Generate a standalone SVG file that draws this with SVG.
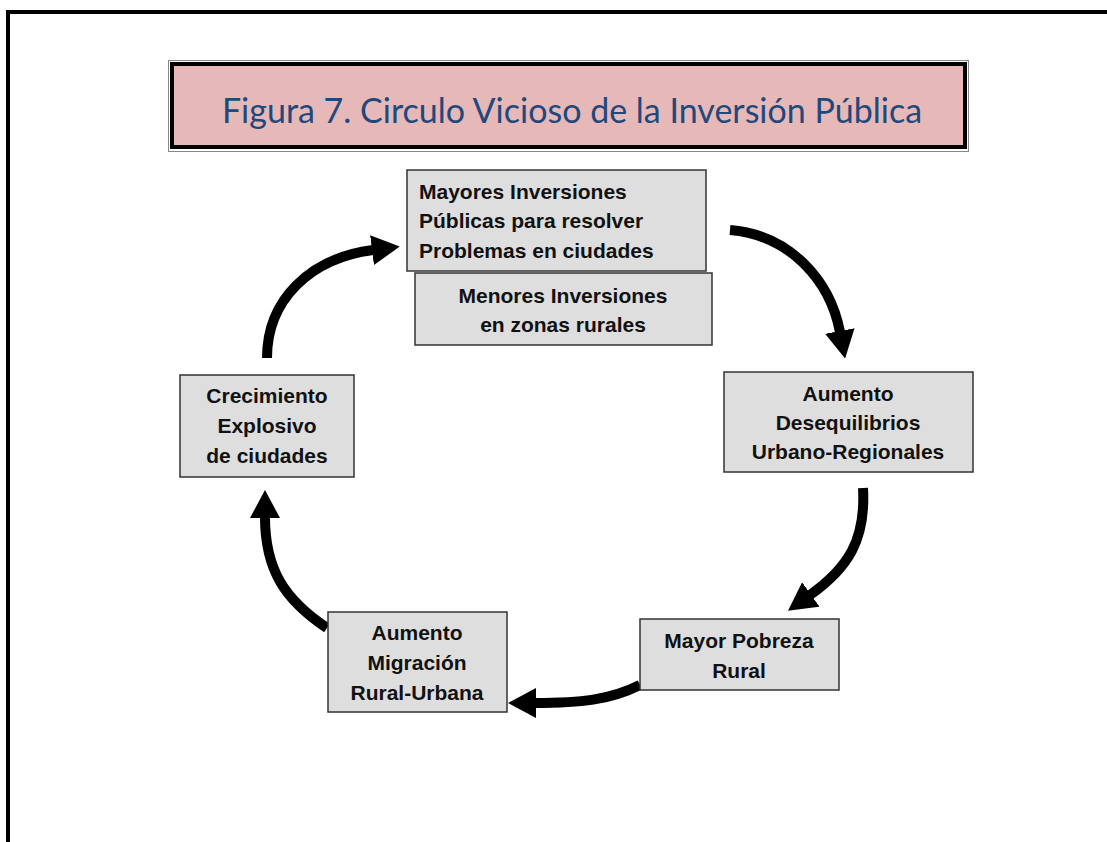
<svg xmlns="http://www.w3.org/2000/svg" width="1107" height="842" viewBox="0 0 1107 842">
<style>
.box{fill:#DEDEDE;stroke:#333;stroke-width:1.5}
.t{font-family:"Liberation Sans",Arial,sans-serif;font-weight:bold;font-size:21px;fill:#111}
.c{text-anchor:middle}
.arr{fill:none;stroke:#000;stroke-width:10;marker-end:url(#head)}
</style>
<defs>
<marker id="head" markerUnits="userSpaceOnUse" markerWidth="28" markerHeight="30" viewBox="0 0 28 30" refX="1" refY="15" orient="auto">
<path d="M0,0 L28,15 L0,30 Z" fill="#000"/>
</marker>
</defs>
<rect width="1107" height="842" fill="#fff"/>
<path d="M8,842 V12 H1107" fill="none" stroke="#000" stroke-width="4"/>
<g id="title">
<rect x="168.5" y="60.5" width="800" height="91" fill="none" stroke="#888" stroke-width="1"/>
<rect x="172" y="64" width="793" height="83" fill="#E6B8B7" stroke="#000" stroke-width="4"/>
<text x="572" y="123" text-anchor="middle" font-family="Lato,'Liberation Sans',sans-serif" font-size="34" fill="#1F497D">Figura 7. Circulo Vicioso de la Inversión Pública</text>
</g>
<g id="connectors">
<path class="arr" d="M730,230 C790,235 830,280 840,332"/>
<path class="arr" d="M863,488 C866,540 848,568 810,595"/>
<path class="arr" d="M640,685 C610,700 580,703 535,703"/>
<path class="arr" d="M327,628 C285,600 265,570 265,517"/>
<path class="arr" d="M267,358 C267,300 310,258 373,250"/>
</g>
<g id="n1">
<rect class="box" x="407" y="170" width="299" height="101"/>
<text class="t" x="419" y="199">Mayores Inversiones</text>
<text class="t" x="419" y="228">Públicas para resolver</text>
<text class="t" x="419" y="258">Problemas en ciudades</text>
</g>
<g id="n2">
<rect class="box" x="415" y="273" width="297" height="72"/>
<text class="t c" x="563" y="303">Menores Inversiones</text>
<text class="t c" x="563" y="332">en zonas rurales</text>
</g>
<g id="n3">
<rect class="box" x="724" y="372" width="249" height="100"/>
<text class="t c" x="848" y="401">Aumento</text>
<text class="t c" x="848" y="430">Desequilibrios</text>
<text class="t c" x="848" y="459">Urbano-Regionales</text>
</g>
<g id="n4">
<rect class="box" x="640" y="619" width="199" height="71"/>
<text class="t c" x="739" y="648">Mayor Pobreza</text>
<text class="t c" x="739" y="678">Rural</text>
</g>
<g id="n5">
<rect class="box" x="328" y="612" width="179" height="100"/>
<text class="t c" x="417" y="640">Aumento</text>
<text class="t c" x="417" y="670">Migración</text>
<text class="t c" x="417" y="700">Rural-Urbana</text>
</g>
<g id="n6">
<rect class="box" x="180" y="375" width="174" height="102"/>
<text class="t c" x="267" y="403">Crecimiento</text>
<text class="t c" x="267" y="433">Explosivo</text>
<text class="t c" x="267" y="463">de ciudades</text>
</g>
</svg>
